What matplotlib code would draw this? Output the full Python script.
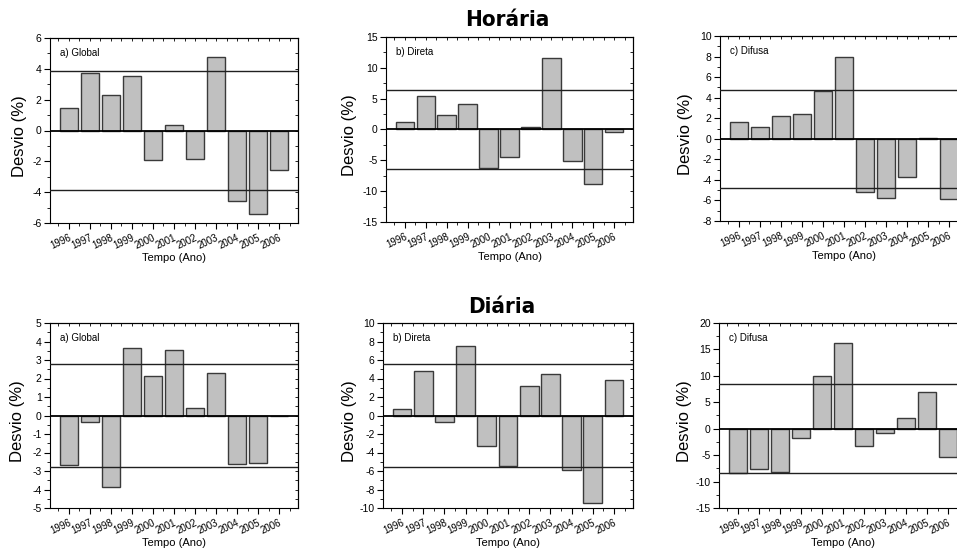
import numpy as np
import matplotlib.pyplot as plt
from matplotlib.ticker import MultipleLocator

plt.rcParams['font.family'] = ['Liberation Sans', 'DejaVu Sans']
plt.rcParams['axes.unicode_minus'] = False

# Anos
anos = list(range(1996, 2007))

# Desvios horarios (%)
hor_global = [1.44, 3.72, 2.29, 3.53, -1.94, 0.38, -1.83, 4.79, -4.59, -5.39, -2.55]
hor_direta = [1.27, 5.40, 2.36, 4.20, -6.21, -4.53, 0.35, 11.64, -5.18, -8.87, -0.41]
hor_difusa = [1.65, 1.16, 2.20, 2.43, 4.64, 7.95, -5.17, -5.73, -3.68, 0.12, -5.89]

# Desvios diarios (%)
dia_global = [-2.68, -0.33, -3.85, 3.67, 2.12, 3.52, 0.42, 2.28, -2.60, -2.59, -0.05]
dia_direta = [0.71, 4.79, -0.71, 7.54, -3.35, -5.44, 3.16, 4.54, -5.84, -9.42, 3.89]
dia_difusa = [-8.35, -7.59, -8.16, -1.71, 9.94, 16.2, -3.35, -0.76, 2.03, 7.03, -5.44]

# Limites (+/-) de cada painel
limites = [3.88, 6.43, 4.76, 2.78, 5.6, 8.45]
rotulos = ['a) Global', 'b) Direta', 'c) Difusa'] * 2
series = [hor_global, hor_direta, hor_difusa, dia_global, dia_direta, dia_difusa]

# (ymin, ymax, major, minor)
escalas = [(-6, 6, 2, 1), (-15, 15, 5, 2.5), (-8, 10, 2, 1),
           (-5, 5, 1, 0.5), (-10, 10, 2, 1), (-15, 20, 5, 2.5)]

W, H = 957, 550
# left, right, top, bottom in pixels
caixas = [(50, 298, 38, 223), (386, 633, 37, 222), (720, 968, 36, 221),
          (50, 298, 323, 508), (383, 633, 323, 508), (719, 967, 323, 508)]
ylab_x = [-0.093, -0.117, -0.109, -0.10, -0.104, -0.109]

fig = plt.figure(figsize=(W / 100, H / 100), dpi=100)

for i, (l, r, t, b) in enumerate(caixas):
    ax = fig.add_axes([l / W, 1 - b / H, (r - l) / W, (b - t) / H])
    ax.bar(anos, series[i], width=0.88, color='#c0c0c0', edgecolor='#3a3a3a',
           linewidth=1.0, zorder=2)
    ax.axhline(0, color='black', lw=1.3, zorder=3)
    ax.axhline(limites[i], color='#202020', lw=1.0, zorder=3)
    ax.axhline(-limites[i], color='#202020', lw=1.0, zorder=3)

    ymin, ymax, maj, mnr = escalas[i]
    ax.set_ylim(ymin, ymax)
    ax.set_xlim(1995.1, 2006.9)
    ax.yaxis.set_major_locator(MultipleLocator(maj))
    ax.yaxis.set_minor_locator(MultipleLocator(mnr))
    ax.set_xticks(anos)
    ax.set_xticks(np.arange(1995.5, 2007, 1), minor=True)
    ax.set_xticklabels([str(a) for a in anos], rotation=25, ha='right',
                       rotation_mode='anchor', fontsize=7)
    ax.tick_params(axis='y', labelsize=7.5, pad=2)
    ax.tick_params(which='major', direction='out', length=4, width=0.8,
                   top=False, right=False)
    ax.tick_params(which='minor', direction='out', length=2, width=0.6)
    ax.tick_params(axis='x', which='major', pad=3)
    for s in ax.spines.values():
        s.set_linewidth(0.8)

    # marcas espelhadas no topo e na direita
    ax2 = ax.secondary_xaxis('top')
    ax2.set_xticks(anos)
    ax2.set_xticks(np.arange(1995.5, 2007, 1), minor=True)
    ax2.tick_params(which='both', direction='in', labeltop=False, length=2, width=0.6)
    ax2.set_xticklabels([])
    ax3 = ax.secondary_yaxis('right')
    ax3.yaxis.set_major_locator(MultipleLocator(maj))
    ax3.yaxis.set_minor_locator(MultipleLocator(mnr))
    ax3.tick_params(which='both', direction='in', length=2, width=0.6)
    ax3.set_yticklabels([])

    ax.set_ylabel('Desvio (%)', fontsize=12)
    ax.yaxis.set_label_coords(ylab_x[i], 0.47)
    ax.set_xlabel('Tempo (Ano)', fontsize=8)
    ax.xaxis.set_label_coords(0.5, -0.16)
    ax.text(0.04, 0.92, rotulos[i], transform=ax.transAxes, fontsize=7,
            va='center', ha='left')

fig.text(507 / W, 1 - 20 / H, 'Horária', ha='center', va='center',
         fontsize=16, fontweight='bold', fontstretch='condensed',
         family=['DejaVu Sans'])
fig.text(502 / W, 1 - 307 / H, 'Diária', ha='center', va='center',
         fontsize=16, fontweight='bold', fontstretch='condensed',
         family=['DejaVu Sans'])

fig.savefig('out.png', dpi=100)
